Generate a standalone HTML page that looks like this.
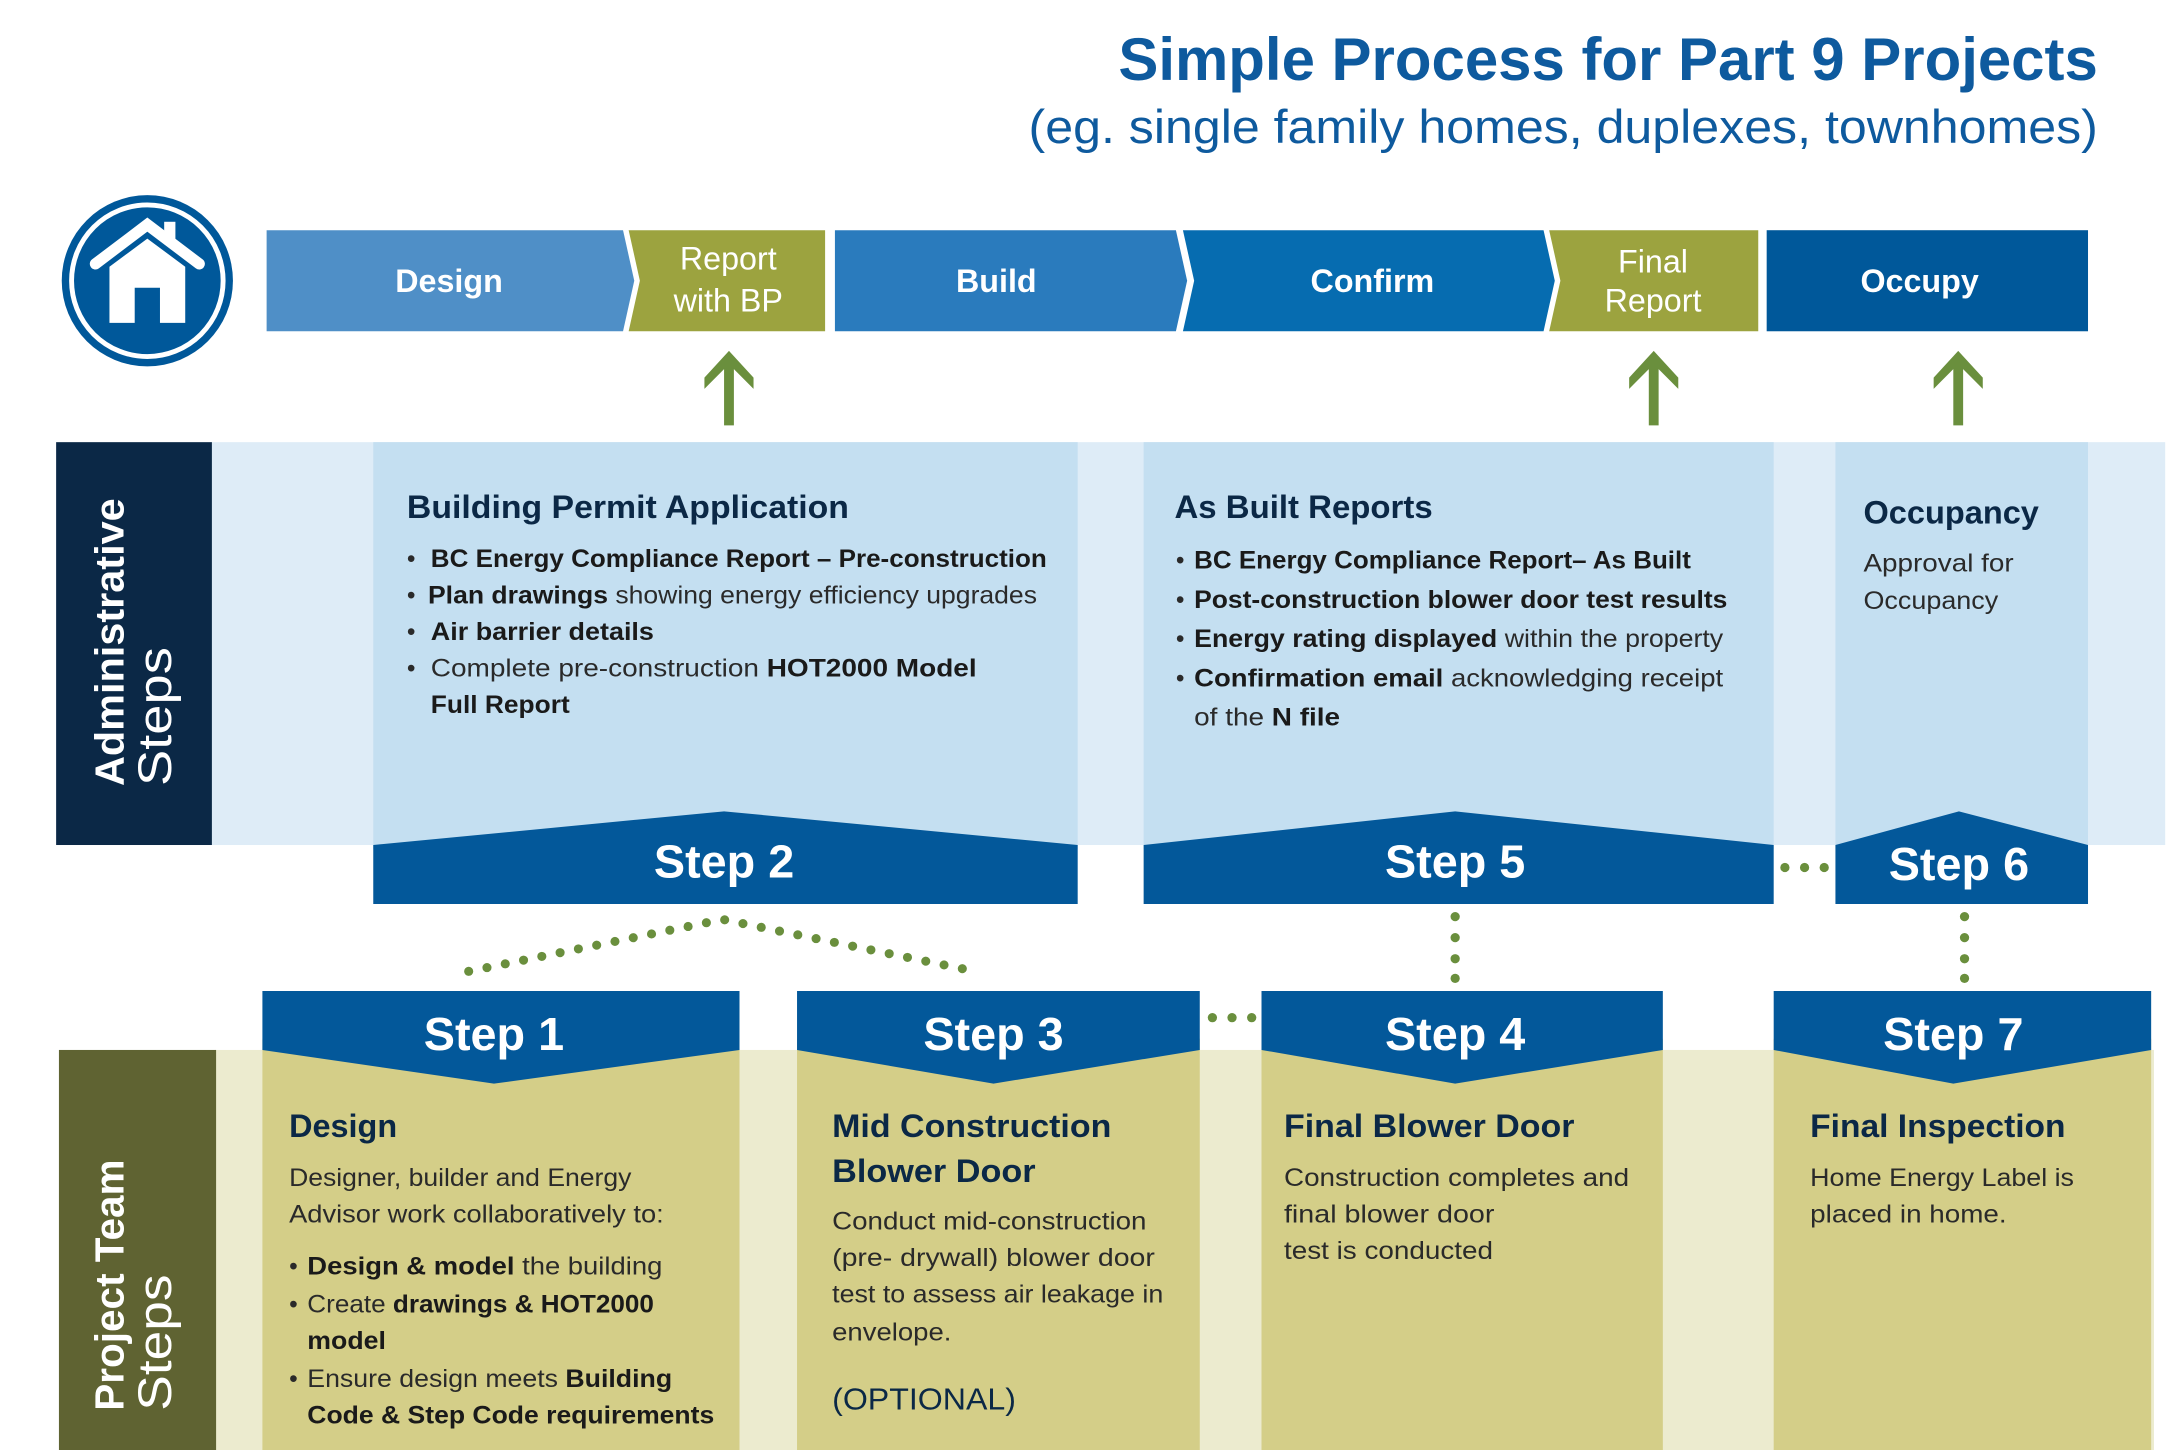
<!DOCTYPE html>
<html><head><meta charset="utf-8"><style>html,body{margin:0;padding:0;background:#fff}svg{display:block}</style></head>
<body>
<svg width="2168" height="1450" viewBox="0 0 1545 1033" preserveAspectRatio="none" xmlns="http://www.w3.org/2000/svg" font-family="Liberation Sans, sans-serif">
<defs><style>
.h{font-weight:bold;fill:#0b2846;font-size:23px}
.b{fill:#2a2a2a;font-size:17.5px}
.bb{font-weight:bold;fill:#1a1a1a}
.st{font-weight:bold;fill:#fff;font-size:33px}
.tb{fill:#fff;font-size:23px}
</style></defs>
<!-- title -->
<text x="1495" y="57" text-anchor="end" font-size="43" font-weight="bold" fill="#0e5a9e" textLength="698" lengthAdjust="spacingAndGlyphs">Simple Process for Part 9 Projects</text>
<text x="1495" y="102" text-anchor="end" font-size="34" fill="#0e5a9e" textLength="762" lengthAdjust="spacingAndGlyphs">(eg. single family homes, duplexes, townhomes)</text>
<!-- house -->
<circle cx="105" cy="200" r="61" fill="#00589a"/>
<circle cx="105" cy="200" r="54" fill="none" stroke="#fff" stroke-width="3.5"/>
<path d="M68 188 L105 160 L142 188" fill="none" stroke="#fff" stroke-width="8" stroke-linejoin="miter" stroke-linecap="round"/>
<rect x="117" y="158" width="8" height="16" fill="#fff"/>
<path d="M78 190 L105 170 L132 190 L132 230 L114 230 L114 205 L96 205 L96 230 L78 230 Z" fill="#fff"/>
<!-- top bar -->
<polygon points="190,164 444,164 452,200 444,236 190,236" fill="#4f8fc7"/>
<polygon points="448,164 588,164 588,236 448,236 456,200" fill="#9ca33f"/>
<polygon points="595,164 838,164 846,200 838,236 595,236" fill="#2a7bbd"/>
<polygon points="843,164 1100,164 1108,200 1100,236 843,236 851,200" fill="#066cb0"/>
<polygon points="1104,164 1253,164 1253,236 1104,236 1112,200" fill="#9ca33f"/>
<rect x="1259" y="164" width="229" height="72" fill="#00589a"/>
<text x="320" y="208" text-anchor="middle" class="tb" font-weight="bold">Design</text>
<text x="519" y="192" text-anchor="middle" class="tb">Report</text>
<text x="519" y="222" text-anchor="middle" class="tb">with BP</text>
<text x="710" y="208" text-anchor="middle" class="tb" font-weight="bold">Build</text>
<text x="978" y="208" text-anchor="middle" class="tb" font-weight="bold">Confirm</text>
<text x="1178" y="194" text-anchor="middle" class="tb">Final</text>
<text x="1178" y="222" text-anchor="middle" class="tb">Report</text>
<text x="1368" y="208" text-anchor="middle" class="tb" font-weight="bold">Occupy</text>
<!-- green arrows -->
<g fill="#6a8f3d">
<path d="M516 303 h7 v-40 l14 14 v-8 l-17.5 -19 l-17.5 19 v8 l14 -14 z"/>
<path d="M1175 303 h7 v-40 l14 14 v-8 l-17.5 -19 l-17.5 19 v8 l14 -14 z"/>
<path d="M1392 303 h7 v-40 l14 14 v-8 l-17.5 -19 l-17.5 19 v8 l14 -14 z"/>
</g>
<!-- admin band -->
<rect x="150" y="315" width="1393" height="287" fill="#deecf7"/>
<rect x="40" y="315" width="111" height="287" fill="#0b2846"/>
<rect x="266" y="315" width="502" height="290" fill="#c4dff1"/>
<rect x="815" y="315" width="449" height="290" fill="#c4dff1"/>
<rect x="1308" y="315" width="180" height="290" fill="#c4dff1"/>
<text transform="translate(88,560) rotate(-90)" font-size="29" font-weight="bold" fill="#fff" textLength="205" lengthAdjust="spacingAndGlyphs">Administrative</text>
<text transform="translate(122,560) rotate(-90)" font-size="34" fill="#fff" textLength="99" lengthAdjust="spacingAndGlyphs">Steps</text>
<!-- step banners top -->
<polygon points="266,602 516,578 768,602 768,644 266,644" fill="#03589a"/>
<polygon points="815,602 1037,578 1264,602 1264,644 815,644" fill="#03589a"/>
<polygon points="1308,602 1396,578 1488,602 1488,644 1308,644" fill="#03589a"/>
<text x="516" y="625" text-anchor="middle" class="st" textLength="100" lengthAdjust="spacingAndGlyphs">Step 2</text>
<text x="1037" y="625" text-anchor="middle" class="st" textLength="100" lengthAdjust="spacingAndGlyphs">Step 5</text>
<text x="1396" y="627" text-anchor="middle" class="st" textLength="100" lengthAdjust="spacingAndGlyphs">Step 6</text>
<!-- admin text -->
<text x="290" y="369" class="h" textLength="315" lengthAdjust="spacingAndGlyphs">Building Permit Application</text>
<g class="b">
<text x="290" y="404">•</text><text x="307" y="404" class="bb" font-size="17.5" textLength="439" lengthAdjust="spacingAndGlyphs">BC Energy Compliance Report – Pre-construction</text>
<text x="290" y="430">•</text><text x="305" y="430" textLength="434" lengthAdjust="spacingAndGlyphs"><tspan class="bb">Plan drawings</tspan> showing energy efficiency upgrades</text>
<text x="290" y="456">•</text><text x="307" y="456" class="bb" font-size="17.5" textLength="159" lengthAdjust="spacingAndGlyphs">Air barrier details</text>
<text x="290" y="482">•</text><text x="307" y="482" textLength="389" lengthAdjust="spacingAndGlyphs">Complete pre-construction <tspan class="bb">HOT2000 Model</tspan></text>
<text x="307" y="508" class="bb" font-size="17.5" textLength="99" lengthAdjust="spacingAndGlyphs">Full Report</text>
</g>
<text x="837" y="369" class="h" textLength="184" lengthAdjust="spacingAndGlyphs">As Built Reports</text>
<g class="b">
<text x="838" y="405">•</text><text x="851" y="405" class="bb" font-size="17.5" textLength="354" lengthAdjust="spacingAndGlyphs">BC Energy Compliance Report– As Built</text>
<text x="838" y="433">•</text><text x="851" y="433" class="bb" font-size="17.5" textLength="380" lengthAdjust="spacingAndGlyphs">Post-construction blower door test results</text>
<text x="838" y="461">•</text><text x="851" y="461" textLength="377" lengthAdjust="spacingAndGlyphs"><tspan class="bb">Energy rating displayed</tspan> within the property</text>
<text x="838" y="489">•</text><text x="851" y="489" textLength="377" lengthAdjust="spacingAndGlyphs"><tspan class="bb">Confirmation email</tspan> acknowledging receipt</text>
<text x="851" y="517" textLength="104" lengthAdjust="spacingAndGlyphs">of the <tspan class="bb">N file</tspan></text>
</g>
<text x="1328" y="373" class="h" textLength="125" lengthAdjust="spacingAndGlyphs">Occupancy</text>
<text x="1328" y="407" class="b" textLength="107" lengthAdjust="spacingAndGlyphs">Approval for</text>
<text x="1328" y="434" class="b" textLength="96" lengthAdjust="spacingAndGlyphs">Occupancy</text>
<!-- dotted connectors -->
<g fill="#6a8f3d">
<circle cx="1272" cy="618" r="3.3"/><circle cx="1286" cy="618" r="3.3"/><circle cx="1300" cy="618" r="3.3"/>
<circle cx="864" cy="725" r="3.3"/><circle cx="878" cy="725" r="3.3"/><circle cx="892" cy="725" r="3.3"/>
<circle cx="1037" cy="653" r="3.3"/><circle cx="1037" cy="668" r="3.3"/><circle cx="1037" cy="683" r="3.3"/><circle cx="1037" cy="697" r="3.3"/>
<circle cx="1400" cy="653" r="3.3"/><circle cx="1400" cy="668" r="3.3"/><circle cx="1400" cy="683" r="3.3"/><circle cx="1400" cy="697" r="3.3"/>
</g>
<path d="M334 692 L515 655 L695 692" fill="none" stroke="#6a8f3d" stroke-width="6.5" stroke-linecap="round" stroke-dasharray="0 13.3"/>
<!-- project band -->
<rect x="153" y="748" width="1382" height="287" fill="#ecebcf"/>
<rect x="42" y="748" width="112" height="287" fill="#5f6332"/>
<text transform="translate(88,1005) rotate(-90)" font-size="29" font-weight="bold" fill="#fff" textLength="179" lengthAdjust="spacingAndGlyphs">Project Team</text>
<text transform="translate(122,1005) rotate(-90)" font-size="34" fill="#fff" textLength="97" lengthAdjust="spacingAndGlyphs">Steps</text>
<g fill="#d4ce88">
<rect x="187" y="740" width="340" height="295"/>
<rect x="568" y="740" width="287" height="295"/>
<rect x="899" y="740" width="286" height="295"/>
<rect x="1264" y="740" width="269" height="295"/>
</g>
<g fill="#03589a">
<polygon points="187,706 527,706 527,748 352,772 187,748"/>
<polygon points="568,706 855,706 855,748 708,772 568,748"/>
<polygon points="899,706 1185,706 1185,748 1037,772 899,748"/>
<polygon points="1264,706 1533,706 1533,748 1392,772 1264,748"/>
</g>
<text x="352" y="748" text-anchor="middle" class="st" textLength="100" lengthAdjust="spacingAndGlyphs">Step 1</text>
<text x="708" y="748" text-anchor="middle" class="st" textLength="100" lengthAdjust="spacingAndGlyphs">Step 3</text>
<text x="1037" y="748" text-anchor="middle" class="st" textLength="100" lengthAdjust="spacingAndGlyphs">Step 4</text>
<text x="1392" y="748" text-anchor="middle" class="st" textLength="100" lengthAdjust="spacingAndGlyphs">Step 7</text>
<!-- step1 -->
<text x="206" y="810" class="h" textLength="77" lengthAdjust="spacingAndGlyphs">Design</text>
<g class="b">
<text x="206" y="845" textLength="244" lengthAdjust="spacingAndGlyphs">Designer, builder and Energy</text>
<text x="206" y="871" textLength="267" lengthAdjust="spacingAndGlyphs">Advisor work collaboratively to:</text>
<text x="206" y="908">•</text><text x="219" y="908" textLength="253" lengthAdjust="spacingAndGlyphs"><tspan class="bb">Design &amp; model</tspan> the building</text>
<text x="206" y="935">•</text><text x="219" y="935" textLength="247" lengthAdjust="spacingAndGlyphs">Create <tspan class="bb">drawings &amp; HOT2000</tspan></text>
<text x="219" y="961" class="bb" font-size="17.5" textLength="56" lengthAdjust="spacingAndGlyphs">model</text>
<text x="206" y="988">•</text><text x="219" y="988" textLength="260" lengthAdjust="spacingAndGlyphs">Ensure design meets <tspan class="bb">Building</tspan></text>
<text x="219" y="1014" class="bb" font-size="17.5" textLength="290" lengthAdjust="spacingAndGlyphs">Code &amp; Step Code requirements</text>
</g>
<!-- step3 -->
<text x="593" y="810" class="h" textLength="199" lengthAdjust="spacingAndGlyphs">Mid Construction</text>
<text x="593" y="842" class="h" textLength="145" lengthAdjust="spacingAndGlyphs">Blower Door</text>
<g class="b">
<text x="593" y="876" textLength="224" lengthAdjust="spacingAndGlyphs">Conduct mid-construction</text>
<text x="593" y="902" textLength="230" lengthAdjust="spacingAndGlyphs">(pre- drywall) blower door</text>
<text x="593" y="928" textLength="236" lengthAdjust="spacingAndGlyphs">test to assess air leakage in</text>
<text x="593" y="955" textLength="85" lengthAdjust="spacingAndGlyphs">envelope.</text>
</g>
<text x="593" y="1004" font-size="22" fill="#0b2846" textLength="131" lengthAdjust="spacingAndGlyphs">(OPTIONAL)</text>
<!-- step4 -->
<text x="915" y="810" class="h" textLength="207" lengthAdjust="spacingAndGlyphs">Final Blower Door</text>
<g class="b">
<text x="915" y="845" textLength="246" lengthAdjust="spacingAndGlyphs">Construction completes and</text>
<text x="915" y="871" textLength="150" lengthAdjust="spacingAndGlyphs">final blower door</text>
<text x="915" y="897" textLength="149" lengthAdjust="spacingAndGlyphs">test is conducted</text>
</g>
<!-- step7 -->
<text x="1290" y="810" class="h" textLength="182" lengthAdjust="spacingAndGlyphs">Final Inspection</text>
<g class="b">
<text x="1290" y="845" textLength="188" lengthAdjust="spacingAndGlyphs">Home Energy Label is</text>
<text x="1290" y="871" textLength="140" lengthAdjust="spacingAndGlyphs">placed in home.</text>
</g>
</svg>
</body></html>
